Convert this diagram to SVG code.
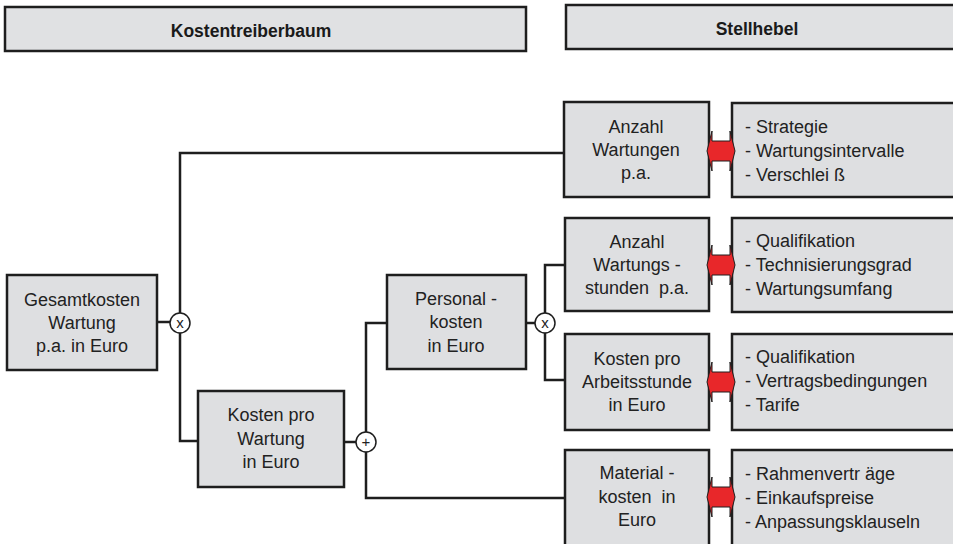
<svg xmlns="http://www.w3.org/2000/svg" width="953" height="544" viewBox="0 0 953 544">
<style>
.box{fill:#dedfe1;stroke:#1e1e1e;stroke-width:2.5}
.hdr{fill:#e0e1e3;stroke:#1e1e1e;stroke-width:2.5}
.t{font-family:"Liberation Sans",Arial,sans-serif;font-size:18px;fill:#222;text-anchor:middle}
.l{font-family:"Liberation Sans",Arial,sans-serif;font-size:18px;fill:#222}
.h{font-family:"Liberation Sans",Arial,sans-serif;font-size:17.5px;font-weight:bold;fill:#1a1a1a;text-anchor:middle}
.c{fill:#fff;stroke:#1e1e1e;stroke-width:1.5}
.op{font-family:"Liberation Sans",Arial,sans-serif;font-size:15px;fill:#222;text-anchor:middle}
.w{fill:none;stroke:#1e1e1e;stroke-width:2.5}
.arr{fill:#e8272a;stroke:#1e1e1e;stroke-width:1}
</style>
<defs>
<polygon id="dbl" class="arr" points="-14,0 -9,-20 -9,-10 9,-10 9,-20 14,0 9,20 9,10 -9,10 -9,20"/>
</defs>
<g id="connectors">
<polyline class="w" points="564,153 180,153 180,441 198,441"/>
<line class="w" x1="157" y1="322" x2="170" y2="322"/>
<polyline class="w" points="387,323 366,323 366,498 565,498"/>
<line class="w" x1="344" y1="442" x2="356" y2="442"/>
<polyline class="w" points="565,265 545,265 545,380 565,380"/>
<line class="w" x1="526" y1="323" x2="535" y2="323"/>
</g>
<g id="header-left"><rect class="hdr" x="5" y="7" width="521" height="44"/><text class="h" x="251" y="37">Kostentreiberbaum</text></g>
<g id="header-right"><rect class="hdr" x="566" y="5" width="392" height="44"/><text class="h" x="757" y="35">Stellhebel</text></g>
<g id="gesamt"><rect class="box" x="7" y="275" width="150" height="95"/>
<text class="t" x="82" y="306">Gesamtkosten</text><text class="t" x="82" y="329">Wartung</text><text class="t" x="82" y="352">p.a. in Euro</text></g>
<g id="op-mult1"><circle class="c" cx="180" cy="323" r="10"/><text class="op" x="180" y="328">x</text></g>
<g id="kpw"><rect class="box" x="198" y="391" width="146" height="96"/>
<text class="t" x="271" y="421">Kosten pro</text><text class="t" x="271" y="445">Wartung</text><text class="t" x="271" y="468">in Euro</text></g>
<g id="op-plus"><circle class="c" cx="366" cy="442" r="10"/><text class="op" x="366" y="447">+</text></g>
<g id="personal"><rect class="box" x="387" y="275" width="139" height="94"/>
<text class="t" x="456" y="305">Personal -</text><text class="t" x="456" y="328">kosten</text><text class="t" x="456" y="352">in Euro</text></g>
<g id="op-mult2"><circle class="c" cx="545" cy="323" r="10"/><text class="op" x="545" y="328">x</text></g>
<g id="anzahl-wartungen"><rect class="box" x="564" y="102" width="145" height="95"/>
<text class="t" x="636" y="133">Anzahl</text><text class="t" x="636" y="156">Wartungen</text><text class="t" x="636" y="179">p.a.</text></g>
<g id="anzahl-stunden"><rect class="box" x="565" y="218" width="144" height="93"/>
<text class="t" x="637" y="248">Anzahl</text><text class="t" x="637" y="271">Wartungs -</text><text class="t" x="637" y="294" xml:space="preserve">stunden  p.a.</text></g>
<g id="kosten-arbeitsstunde"><rect class="box" x="565" y="334" width="144" height="96"/>
<text class="t" x="637" y="365">Kosten pro</text><text class="t" x="637" y="388">Arbeitsstunde</text><text class="t" x="637" y="411">in Euro</text></g>
<g id="materialkosten"><rect class="box" x="565" y="450" width="144" height="97"/>
<text class="t" x="637" y="479">Material -</text><text class="t" x="637" y="503" xml:space="preserve">kosten  in</text><text class="t" x="637" y="526">Euro</text></g>
<g id="hebel1"><rect class="box" x="732" y="103" width="224" height="94"/>
<text class="l" x="745" y="133">- Strategie</text><text class="l" x="745" y="157">- Wartungsintervalle</text><text class="l" x="745" y="181">- Verschlei ß</text></g>
<g id="hebel2"><rect class="box" x="732" y="218" width="224" height="94"/>
<text class="l" x="745" y="247">- Qualifikation</text><text class="l" x="745" y="271">- Technisierungsgrad</text><text class="l" x="745" y="295">- Wartungsumfang</text></g>
<g id="hebel3"><rect class="box" x="732" y="334" width="224" height="96"/>
<text class="l" x="745" y="363">- Qualifikation</text><text class="l" x="745" y="387">- Vertragsbedingungen</text><text class="l" x="745" y="411">- Tarife</text></g>
<g id="hebel4"><rect class="box" x="732" y="450" width="224" height="97"/>
<text class="l" x="745" y="480">- Rahmenvertr äge</text><text class="l" x="745" y="504">- Einkaufspreise</text><text class="l" x="745" y="528">- Anpassungsklauseln</text></g>
<g id="arrows">
<use href="#dbl" x="721" y="151"/>
<use href="#dbl" x="721" y="265"/>
<use href="#dbl" x="721" y="382"/>
<use href="#dbl" x="721" y="497"/>
</g>
</svg>
